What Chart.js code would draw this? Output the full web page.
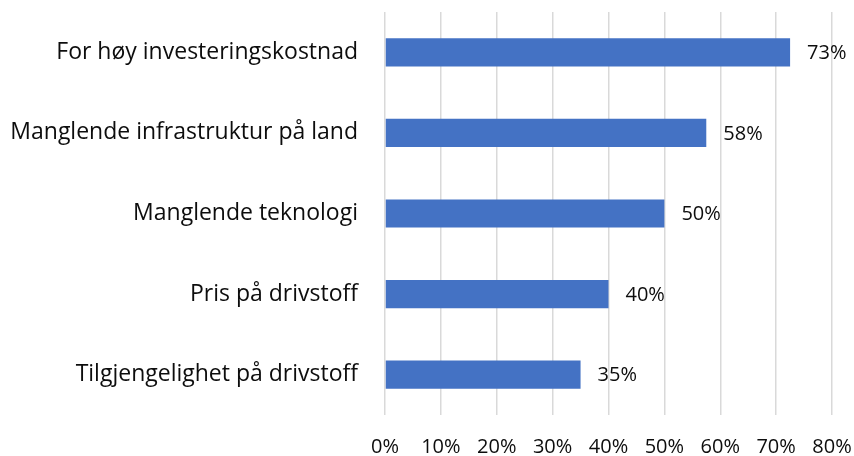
<!DOCTYPE html>
<html>
<head>
<meta charset="utf-8">
<script src="https://cdn.jsdelivr.net/npm/chart.js@4.4.1/dist/chart.umd.min.js"></script>
<style>
  html, body { margin: 0; padding: 0; background: #ffffff; }
  #wrap { width: 854px; height: 456px; position: relative; }
</style>
</head>
<body>
<div id="wrap"><canvas id="c" width="854" height="456"></canvas></div>
<script>
const categories = [
  "For høy investeringskostnad",
  "Manglende infrastruktur på land",
  "Manglende teknologi",
  "Pris på drivstoff",
  "Tilgjengelighet på drivstoff"
];
const values = [72.5, 57.5, 50, 40, 35];
const valueLabels = ["73%", "58%", "50%", "40%", "35%"];
const xTicks = [0, 10, 20, 30, 40, 50, 60, 70, 80];

const FONT = "'Open Sans', sans-serif";
const TEXT = "#0d0d0d";

const dataLabelPlugin = {
  id: 'dataLabels',
  afterDatasetsDraw(chart) {
    const ctx = chart.ctx;
    const meta = chart.getDatasetMeta(0);
    ctx.save();
    ctx.font = "20px " + FONT;
    ctx.fillStyle = TEXT;
    ctx.textAlign = 'left';
    ctx.textBaseline = 'middle';
    meta.data.forEach((bar, i) => {
      ctx.fillText(valueLabels[i], bar.x + 17, bar.y + 1);
    });
    ctx.restore();
  }
};

new Chart(document.getElementById('c'), {
  type: 'bar',
  data: {
    labels: categories,
    datasets: [{
      data: values,
      backgroundColor: '#4472C4',
      borderWidth: 0,
      barPercentage: 0.35,
      categoryPercentage: 1.0
    }]
  },
  options: {
    indexAxis: 'y',
    responsive: false,
    animation: false,
    devicePixelRatio: 1,
    layout: { padding: { top: 12, right: 22, left: 0, bottom: 0 } },
    plugins: {
      legend: { display: false },
      tooltip: { enabled: false }
    },
    scales: {
      x: {
        min: 0,
        max: 80,
        afterBuildTicks(scale) {
          scale.ticks = xTicks.map(v => ({ value: v }));
        },
        afterFit(scale) {
          scale.height = 41;
          scale.paddingLeft = 0;
          scale.paddingRight = 0;
        },
        grid: { color: '#d9d9d9', lineWidth: 1.5, drawTicks: false },
        border: { display: false },
        ticks: {
          padding: 20,
          color: TEXT,
          font: { family: FONT, size: 20 },
          maxRotation: 0,
          callback: v => v + '%'
        }
      },
      y: {
        afterFit(scale) {
          scale.width = 385;
          scale.paddingTop = 0;
          scale.paddingBottom = 0;
        },
        grid: { display: false, drawTicks: false },
        border: { display: false },
        ticks: {
          padding: 27,
          color: TEXT,
          font: { family: FONT, size: 23 }
        }
      }
    }
  },
  plugins: [dataLabelPlugin]
});
</script>
</body>
</html>
